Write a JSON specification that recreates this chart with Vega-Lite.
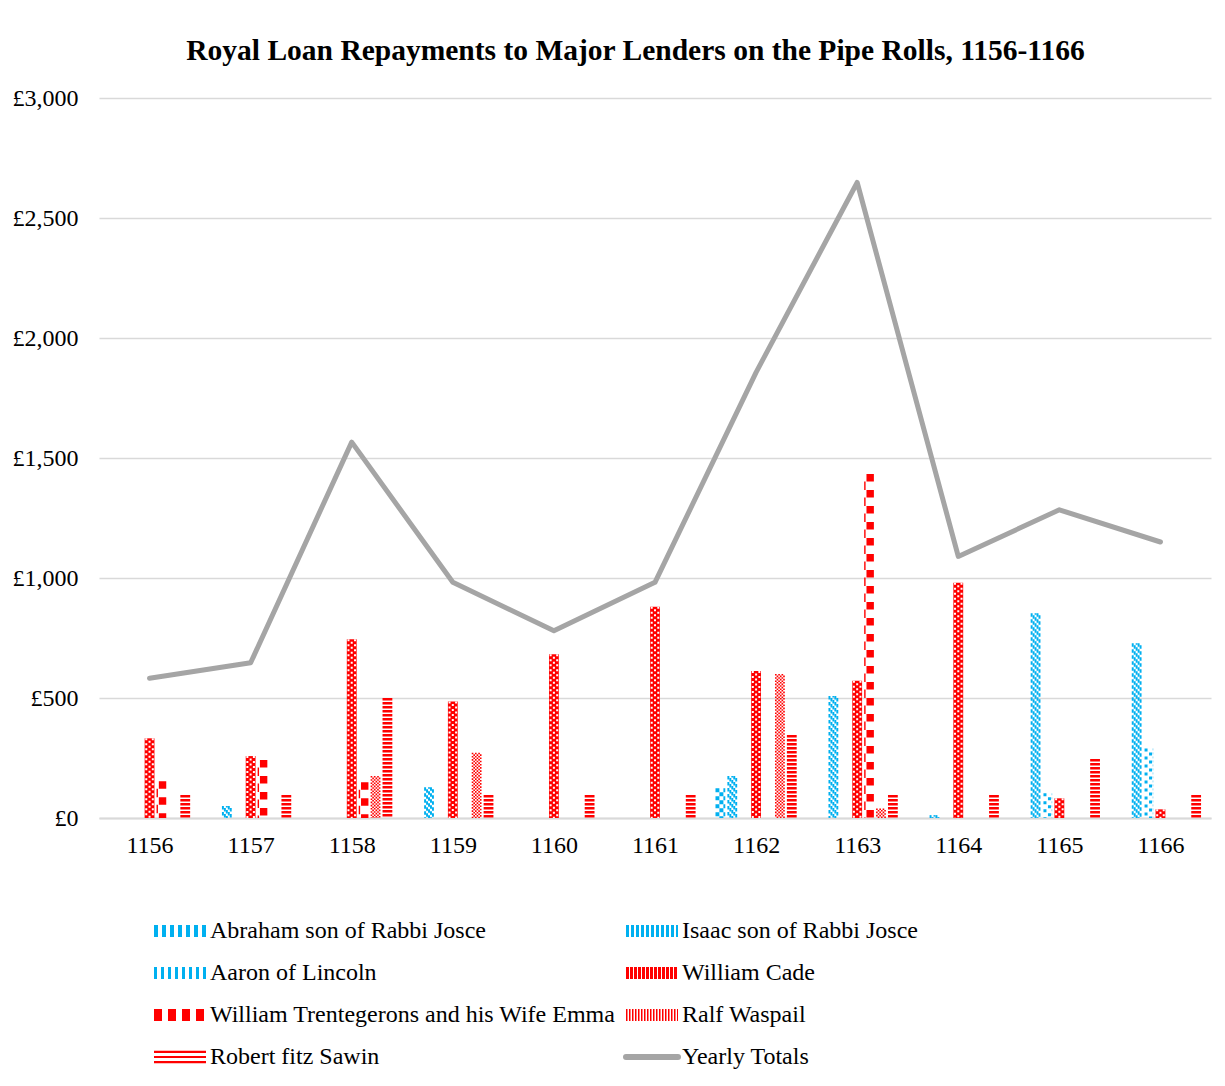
{
  "$schema": "https://vega.github.io/schema/vega-lite/v6.json",
  "width": 1112,
  "height": 720,
  "autosize": "none",
  "padding": {"left": 99, "top": 98, "right": 14, "bottom": 268},
  "background": "#ffffff",
  "title": {
    "text": "Royal Loan Repayments to Major Lenders on the Pipe Rolls, 1156-1166",
    "font": "Liberation Serif",
    "fontSize": 29.5,
    "fontWeight": "bold",
    "color": "#000000",
    "anchor": "middle",
    "frame": "group",
    "dx": -19.5,
    "dy": 3,
    "baseline": "alphabetic",
    "offset": 0
  },
  "datasets": {
    "loans": [
      {"year": "1156", "lender": "William Cade", "amount": 332},
      {"year": "1156", "lender": "William Trentegerons and his Wife Emma", "amount": 153},
      {"year": "1156", "lender": "Robert fitz Sawin", "amount": 96},
      {"year": "1157", "lender": "Isaac son of Rabbi Josce", "amount": 50},
      {"year": "1157", "lender": "William Cade", "amount": 258},
      {"year": "1157", "lender": "William Trentegerons and his Wife Emma", "amount": 242},
      {"year": "1157", "lender": "Robert fitz Sawin", "amount": 96},
      {"year": "1158", "lender": "William Cade", "amount": 745},
      {"year": "1158", "lender": "William Trentegerons and his Wife Emma", "amount": 149},
      {"year": "1158", "lender": "Ralf Waspail", "amount": 175},
      {"year": "1158", "lender": "Robert fitz Sawin", "amount": 500},
      {"year": "1159", "lender": "Isaac son of Rabbi Josce", "amount": 128},
      {"year": "1159", "lender": "William Cade", "amount": 485},
      {"year": "1159", "lender": "Ralf Waspail", "amount": 272},
      {"year": "1159", "lender": "Robert fitz Sawin", "amount": 96},
      {"year": "1160", "lender": "William Cade", "amount": 682},
      {"year": "1160", "lender": "Robert fitz Sawin", "amount": 96},
      {"year": "1161", "lender": "William Cade", "amount": 880},
      {"year": "1161", "lender": "Robert fitz Sawin", "amount": 96},
      {"year": "1162", "lender": "Abraham son of Rabbi Josce", "amount": 124},
      {"year": "1162", "lender": "Isaac son of Rabbi Josce", "amount": 175},
      {"year": "1162", "lender": "William Cade", "amount": 612},
      {"year": "1162", "lender": "Ralf Waspail", "amount": 600},
      {"year": "1162", "lender": "Robert fitz Sawin", "amount": 346},
      {"year": "1163", "lender": "Isaac son of Rabbi Josce", "amount": 508},
      {"year": "1163", "lender": "William Cade", "amount": 572},
      {"year": "1163", "lender": "William Trentegerons and his Wife Emma", "amount": 1433},
      {"year": "1163", "lender": "Ralf Waspail", "amount": 40},
      {"year": "1163", "lender": "Robert fitz Sawin", "amount": 96},
      {"year": "1164", "lender": "Isaac son of Rabbi Josce", "amount": 12},
      {"year": "1164", "lender": "William Cade", "amount": 980},
      {"year": "1164", "lender": "Robert fitz Sawin", "amount": 96},
      {"year": "1165", "lender": "Isaac son of Rabbi Josce", "amount": 853},
      {"year": "1165", "lender": "Aaron of Lincoln", "amount": 103},
      {"year": "1165", "lender": "William Cade", "amount": 82},
      {"year": "1165", "lender": "Robert fitz Sawin", "amount": 246},
      {"year": "1166", "lender": "Isaac son of Rabbi Josce", "amount": 728},
      {"year": "1166", "lender": "Aaron of Lincoln", "amount": 290},
      {"year": "1166", "lender": "William Cade", "amount": 36},
      {"year": "1166", "lender": "Robert fitz Sawin", "amount": 96}
    ],
    "totals": [
      {"year": "1156", "total": 582},
      {"year": "1157", "total": 647},
      {"year": "1158", "total": 1566},
      {"year": "1159", "total": 982},
      {"year": "1160", "total": 780},
      {"year": "1161", "total": 982},
      {"year": "1162", "total": 1857},
      {"year": "1163", "total": 2648},
      {"year": "1164", "total": 1090},
      {"year": "1165", "total": 1284},
      {"year": "1166", "total": 1150}
    ]
  },
  "layer": [
    {
      "data": {"name": "loans"},
      "encoding": {
        "x": {"field": "year", "type": "ordinal", "scale": {"type": "point", "padding": 0.5}},
        "y": {
          "field": "amount",
          "type": "quantitative",
          "scale": {"domain": [0, 3000], "nice": false},
          "axis": {"values": [0, 500, 1000, 1500, 2000, 2500, 3000]}
        },
        "y2": {"datum": 0}
      },
      "layer": [
        {"transform": [{"filter": {"field": "lender", "equal": "Abraham son of Rabbi Josce"}}],
         "mark": {"type": "rule", "stroke": "#00b0f0", "xOffset": -38.65, "strokeWidth": 3.9, "strokeDash": [4, 4], "strokeDashOffset": 0}},
        {"transform": [{"filter": {"field": "lender", "equal": "Abraham son of Rabbi Josce"}}],
         "mark": {"type": "rule", "stroke": "#00b0f0", "xOffset": -34.7, "strokeWidth": 4, "strokeDash": [4, 4], "strokeDashOffset": 4}},
        {"transform": [{"filter": {"field": "lender", "equal": "Abraham son of Rabbi Josce"}}],
         "mark": {"type": "rule", "stroke": "#00b0f0", "xOffset": -31.75, "strokeWidth": 1.9, "strokeDash": [4, 4], "strokeDashOffset": 0}},

        {"transform": [{"filter": {"field": "lender", "equal": "Isaac son of Rabbi Josce"}}],
         "mark": {"type": "rule", "stroke": "#00b0f0", "xOffset": -27.72, "strokeWidth": 1.96, "strokeDash": [3.5, 2.5], "strokeDashOffset": 0}},
        {"transform": [{"filter": {"field": "lender", "equal": "Isaac son of Rabbi Josce"}}],
         "mark": {"type": "rule", "stroke": "#00b0f0", "xOffset": -25.76, "strokeWidth": 1.96, "strokeDash": [3.5, 2.5], "strokeDashOffset": 4}},
        {"transform": [{"filter": {"field": "lender", "equal": "Isaac son of Rabbi Josce"}}],
         "mark": {"type": "rule", "stroke": "#00b0f0", "xOffset": -23.8, "strokeWidth": 1.96, "strokeDash": [3.5, 2.5], "strokeDashOffset": 2}},
        {"transform": [{"filter": {"field": "lender", "equal": "Isaac son of Rabbi Josce"}}],
         "mark": {"type": "rule", "stroke": "#00b0f0", "xOffset": -21.84, "strokeWidth": 1.96, "strokeDash": [3.5, 2.5], "strokeDashOffset": 0}},
        {"transform": [{"filter": {"field": "lender", "equal": "Isaac son of Rabbi Josce"}}],
         "mark": {"type": "rule", "stroke": "#00b0f0", "xOffset": -19.88, "strokeWidth": 1.96, "strokeDash": [3.5, 2.5], "strokeDashOffset": 4}},

        {"transform": [{"filter": {"field": "lender", "equal": "Aaron of Lincoln"}}],
         "mark": {"type": "rule", "stroke": "#00b0f0", "xOffset": -14.4, "strokeWidth": 3, "strokeDash": [3, 5], "strokeDashOffset": 0}},
        {"transform": [{"filter": {"field": "lender", "equal": "Aaron of Lincoln"}}],
         "mark": {"type": "rule", "stroke": "#00b0f0", "xOffset": -9.9, "strokeWidth": 3, "strokeDash": [3, 5], "strokeDashOffset": 4}},
        {"transform": [{"filter": {"field": "lender", "equal": "Aaron of Lincoln"}}],
         "mark": {"type": "rule", "stroke": "#7fd7f7", "xOffset": -7.5, "strokeWidth": 0.8, "strokeDash": [2, 2], "strokeDashOffset": 0}},

        {"transform": [{"filter": {"field": "lender", "equal": "William Cade"}}],
         "mark": {"type": "rule", "stroke": "#ff0000", "xOffset": 0, "strokeWidth": 9.8}},
        {"transform": [{"filter": {"field": "lender", "equal": "William Cade"}}],
         "mark": {"type": "rule", "stroke": "#ffffff", "xOffset": -3.27, "strokeWidth": 2, "strokeDash": [2, 3], "strokeDashOffset": 0}},
        {"transform": [{"filter": {"field": "lender", "equal": "William Cade"}}],
         "mark": {"type": "rule", "stroke": "#ffffff", "xOffset": 0, "strokeWidth": 2, "strokeDash": [2, 3], "strokeDashOffset": 2.5}},
        {"transform": [{"filter": {"field": "lender", "equal": "William Cade"}}],
         "mark": {"type": "rule", "stroke": "#ffffff", "xOffset": 3.27, "strokeWidth": 2, "strokeDash": [2, 3], "strokeDashOffset": 0}},

        {"transform": [{"filter": {"field": "lender", "equal": "William Trentegerons and his Wife Emma"}}],
         "mark": {"type": "rule", "stroke": "#ff0000", "xOffset": 7.7, "strokeWidth": 1.4, "strokeDash": [8.5, 7.5], "strokeDashOffset": 8.5}},
        {"transform": [{"filter": {"field": "lender", "equal": "William Trentegerons and his Wife Emma"}}],
         "mark": {"type": "rule", "stroke": "#ff0000", "xOffset": 13.0, "strokeWidth": 7.4, "strokeDash": [7.5, 8.5], "strokeDashOffset": 0}},

        {"transform": [{"filter": {"field": "lender", "equal": "Ralf Waspail"}}],
         "mark": {"type": "rule", "stroke": "#ff0000", "xOffset": 19.72, "strokeWidth": 1.63, "strokeDash": [1.6, 1.6], "strokeDashOffset": 0}},
        {"transform": [{"filter": {"field": "lender", "equal": "Ralf Waspail"}}],
         "mark": {"type": "rule", "stroke": "#ff0000", "xOffset": 21.35, "strokeWidth": 1.63, "strokeDash": [1.6, 1.6], "strokeDashOffset": 1.6}},
        {"transform": [{"filter": {"field": "lender", "equal": "Ralf Waspail"}}],
         "mark": {"type": "rule", "stroke": "#ff0000", "xOffset": 22.98, "strokeWidth": 1.63, "strokeDash": [1.6, 1.6], "strokeDashOffset": 0}},
        {"transform": [{"filter": {"field": "lender", "equal": "Ralf Waspail"}}],
         "mark": {"type": "rule", "stroke": "#ff0000", "xOffset": 24.62, "strokeWidth": 1.63, "strokeDash": [1.6, 1.6], "strokeDashOffset": 1.6}},
        {"transform": [{"filter": {"field": "lender", "equal": "Ralf Waspail"}}],
         "mark": {"type": "rule", "stroke": "#ff0000", "xOffset": 26.25, "strokeWidth": 1.63, "strokeDash": [1.6, 1.6], "strokeDashOffset": 0}},
        {"transform": [{"filter": {"field": "lender", "equal": "Ralf Waspail"}}],
         "mark": {"type": "rule", "stroke": "#ff0000", "xOffset": 27.88, "strokeWidth": 1.63, "strokeDash": [1.6, 1.6], "strokeDashOffset": 1.6}},

        {"transform": [{"filter": {"field": "lender", "equal": "Robert fitz Sawin"}}],
         "mark": {"type": "rule", "stroke": "#ff0000", "xOffset": 35.7, "strokeWidth": 9.8, "strokeDash": [2.6, 1.4], "strokeDashOffset": 0}}
      ]
    },
    {
      "data": {"name": "totals"},
      "mark": {"type": "line", "strokeWidth": 5, "strokeCap": "round", "strokeJoin": "round"},
      "encoding": {
        "x": {"field": "year", "type": "ordinal", "scale": {"type": "point", "padding": 0.5}},
        "y": {"field": "total", "type": "quantitative"},
        "color": {
          "datum": "Yearly Totals",
          "type": "nominal",
          "scale": {
            "domain": [
              "Abraham son of Rabbi Josce",
              "Isaac son of Rabbi Josce",
              "Aaron of Lincoln",
              "William Cade",
              "William Trentegerons and his Wife Emma",
              "Ralf Waspail",
              "Robert fitz Sawin",
              "Yearly Totals"
            ],
            "range": ["#00b0f0", "#00b0f0", "#00b0f0", "#ff0000", "#ff0000", "#ff0000", "#ff0000", "#a5a5a5"]
          },
          "legend": {
            "orient": "none",
            "legendX": 69,
            "legendY": 821,
            "direction": "horizontal",
            "columns": 2,
            "title": null,
            "symbolSize": 400,
            "labelOffset": 18,
            "columnPadding": 4,
            "rowPadding": 18,
            "labelFont": "Liberation Serif",
            "labelFontSize": 24,
            "labelColor": "#000000",
            "labelLimit": 600,
            "encode": {
              "symbols": {
                "update": {
                  "shape": {"signal": "datum.index === 6 ? 'M-2.6,-0.62H2.6V0.62H-2.6Z' : 'M-2.6,0H2.6'"},
                  "fill": {"signal": "datum.index === 6 ? {gradient: 'linear', x1: 0, y1: 0, x2: 0, y2: 1, stops: [{offset: 0, color: '#ff0000'}, {offset: 0.2, color: '#ff0000'}, {offset: 0.2, color: '#ffffff'}, {offset: 0.4, color: '#ffffff'}, {offset: 0.4, color: '#ff0000'}, {offset: 0.6, color: '#ff0000'}, {offset: 0.6, color: '#ffffff'}, {offset: 0.8, color: '#ffffff'}, {offset: 0.8, color: '#ff0000'}, {offset: 1, color: '#ff0000'}]} : 'transparent'"},
                  "stroke": {"signal": "['#00b0f0', '#00b0f0', '#00b0f0', '#ff0000', '#ff0000', '#ff0000', '#ff0000', '#a5a5a5'][datum.index]"},
                  "strokeWidth": {"signal": "datum.index === 7 ? 6 : datum.index === 6 ? 0 : 12"},
                  "strokeDash": {"signal": "[[4, 4], [3, 2], [3, 4], [3, 1], [8, 6], [1.5, 1.5], [], []][datum.index]"},
                  "strokeCap": {"signal": "datum.index === 7 ? 'round' : 'butt'"},
                  "strokeJoin": {"value": "bevel"},
                  "opacity": {"value": 1}
                }
              }
            }
          }
        }
      }
    }
  ],
  "config": {
    "view": {"stroke": null},
    "axisY": {
      "title": null,
      "labelExpr": "'£' + format(datum.value, ',')",
      "grid": true,
      "gridColor": "#d9d9d9",
      "gridWidth": 1.3,
      "domain": false,
      "ticks": false,
      "labelPadding": 21,
      "labelFont": "Liberation Serif",
      "labelFontSize": 24,
      "labelColor": "#000000"
    },
    "axisX": {
      "title": null,
      "labelAngle": 0,
      "ticks": false,
      "grid": false,
      "domainColor": "#d9d9d9",
      "domainWidth": 2,
      "labelPadding": 15,
      "labelFont": "Liberation Serif",
      "labelFontSize": 24,
      "labelColor": "#000000"
    }
  }
}
